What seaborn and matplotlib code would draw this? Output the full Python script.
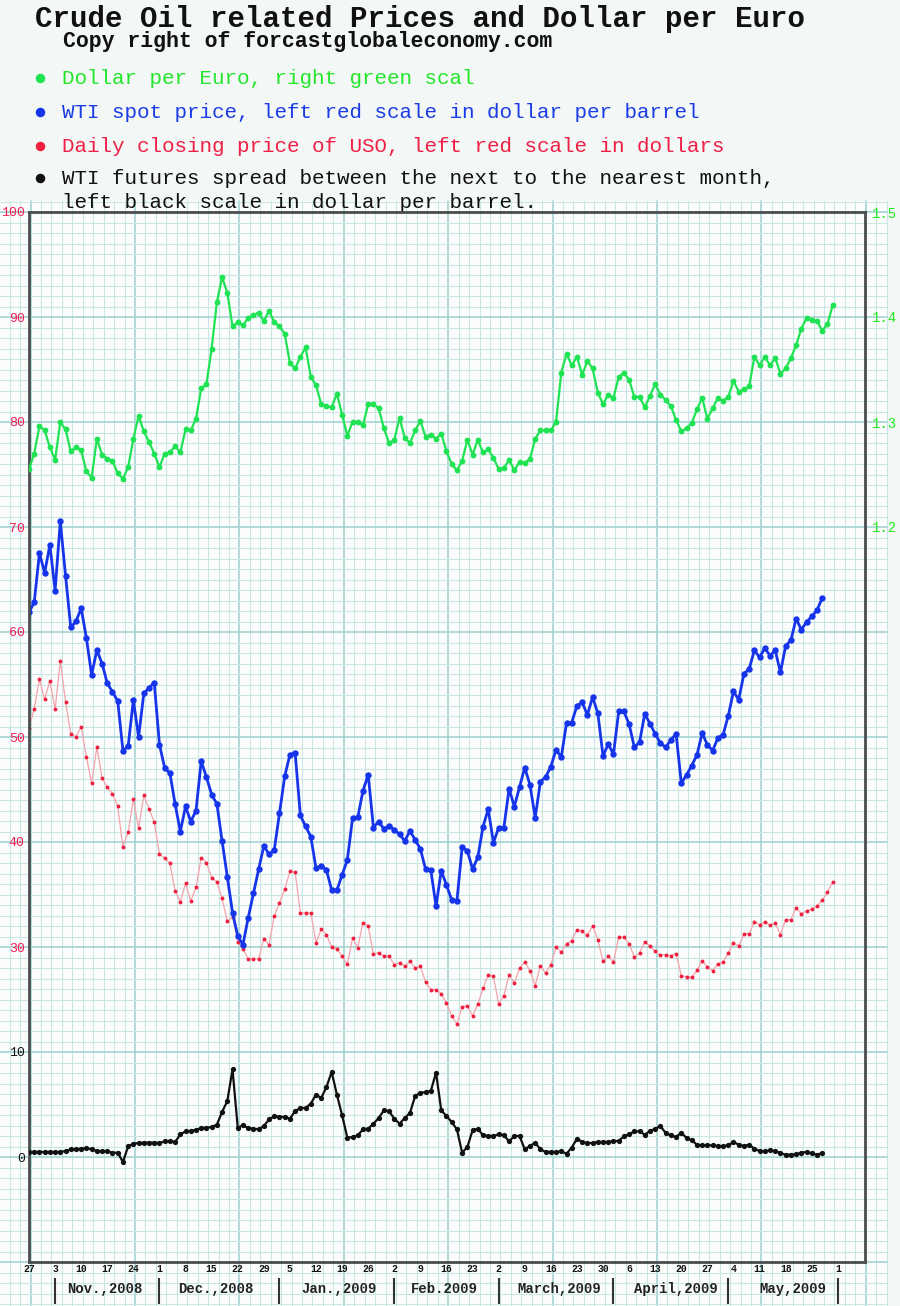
import numpy as np
import seaborn as sns
import matplotlib.pyplot as plt
from matplotlib.patches import Rectangle
import pandas as pd

sns.set_theme(style="white")
plt.rcParams['font.family'] = ['Liberation Mono', 'DejaVu Sans Mono']

# dollar per euro (right green scale), one value per trading day from Oct 27, 2008
usd_per_eur = [
    1.255, 1.270, 1.296, 1.292, 1.276, 1.264, 1.300, 1.293, 1.272, 1.276,
    1.273, 1.253, 1.247, 1.284, 1.269, 1.265, 1.263, 1.251, 1.246, 1.257,
    1.284, 1.306, 1.291, 1.281, 1.270, 1.257, 1.270, 1.271, 1.277, 1.271,
    1.293, 1.292, 1.303, 1.332, 1.336, 1.370, 1.414, 1.438, 1.423, 1.391,
    1.395, 1.392, 1.399, 1.402, 1.404, 1.396, 1.406, 1.395, 1.391, 1.384,
    1.356, 1.351, 1.362, 1.371, 1.343, 1.335, 1.317, 1.315, 1.314, 1.327,
    1.307, 1.287, 1.300, 1.300, 1.297, 1.317, 1.317, 1.313, 1.294, 1.280,
    1.283, 1.304, 1.285, 1.280, 1.292, 1.301, 1.286, 1.288, 1.284, 1.289,
    1.272,
    1.260, 1.254, 1.263, 1.283, 1.269, 1.283, 1.271, 1.274, 1.266, 1.255,
    1.256, 1.264, 1.254, 1.262, 1.261, 1.265, 1.284, 1.292, 1.292, 1.292,
    1.300, 1.347, 1.365, 1.354, 1.362, 1.345, 1.358, 1.351, 1.328, 1.317,
    1.326, 1.323, 1.343, 1.347, 1.340, 1.324, 1.324, 1.314, 1.325, 1.336,
    1.326, 1.321, 1.315, 1.302, 1.291, 1.294, 1.299, 1.312, 1.323, 1.303,
    1.313, 1.323, 1.320, 1.324, 1.339, 1.329, 1.331, 1.334, 1.362, 1.354,
    1.362, 1.354, 1.361, 1.346, 1.351, 1.361, 1.373, 1.389, 1.399, 1.397,
    1.396, 1.387, 1.393, 1.411]

# WTI spot price, dollar per barrel
wti_spot = [
    61.87, 62.83, 67.51, 65.63, 68.31, 63.94, 70.54, 65.38, 60.44, 61.01,
    62.26, 59.42, 55.91, 58.27, 57.00, 55.12, 54.29, 53.43, 48.71, 49.12,
    53.52, 49.98, 54.16, 54.67, 55.18, 49.28, 47.05, 46.57, 43.61, 41.00,
    43.39, 41.95, 42.97, 47.69, 46.19, 44.50, 43.64, 40.10, 36.69, 33.28,
    31.05, 30.22, 32.77, 35.10, 37.39, 39.63, 38.83, 39.24, 42.75, 46.25,
    48.33, 48.49, 42.53, 41.48, 40.52, 37.49, 37.75, 37.33, 35.42, 35.42,
    36.85, 38.29, 42.27, 42.34, 44.88, 46.41, 41.38, 41.95, 41.25, 41.54,
    41.16, 40.74, 40.10, 41.06, 40.20, 39.34, 37.39, 37.33, 33.89, 37.27,
    35.90,
    34.47, 34.40, 39.49, 39.17, 37.42, 38.54, 41.46, 43.12, 39.94, 41.37,
    41.37, 45.09, 43.37, 45.21, 47.09, 45.44, 42.32, 45.76, 46.17, 47.19,
    48.78, 48.08, 51.32, 51.38, 52.97, 53.29, 52.11, 53.80, 52.27, 48.20,
    49.32, 48.36, 52.43, 52.43, 51.22, 49.03, 49.51, 52.21, 51.26, 50.30,
    49.41, 49.03, 49.73, 50.30, 45.60, 46.39, 47.28, 48.30, 50.37, 49.25,
    48.71, 49.89, 50.21, 52.02, 54.34, 53.55, 56.03, 56.47, 58.25, 57.58,
    58.47, 57.74, 58.25, 56.15, 58.70, 59.21, 61.27, 60.22, 60.95, 61.49,
    62.07, 63.24]

# daily closing price of USO, dollars
uso_close = [
    50.88, 52.69, 55.50, 53.59, 55.34, 52.63, 57.25, 53.36, 50.30, 50.02,
    50.97, 48.10, 45.62, 49.03, 46.10, 45.23, 44.60, 43.39, 39.56, 40.93,
    44.09, 41.32, 44.44, 43.16, 41.89, 38.86, 38.45, 37.97, 35.35, 34.30,
    36.06, 34.37, 35.67, 38.51, 38.03, 36.60, 36.22, 34.62, 32.45, 32.87,
    30.48, 29.84, 28.88, 28.88, 28.88, 30.80, 30.22, 32.96, 34.21, 35.48,
    37.23, 37.11, 33.25, 33.25, 33.25, 30.41, 31.69, 31.18, 29.99, 29.84,
    29.11, 28.34, 30.86, 29.94, 32.33, 32.01, 29.30, 29.46, 29.14, 29.14,
    28.31, 28.50, 28.15, 28.63, 27.99, 28.18, 26.65, 25.95, 25.95, 25.54,
    24.64, 23.43, 22.67, 24.32, 24.38, 23.43, 24.57, 26.06,
    27.36, 27.20, 24.57, 25.36, 27.36, 26.57, 28.00, 28.57, 27.75, 26.31,
    28.22, 27.52, 28.32, 29.97, 29.52, 30.32, 30.61, 31.66, 31.50, 31.12,
    32.04, 30.70, 28.64, 29.11, 28.57, 30.96, 30.92, 30.32, 29.02, 29.43,
    30.48, 30.07, 29.59, 29.21, 29.27, 29.18, 29.37, 27.27, 27.14, 27.11,
    27.78, 28.70, 28.09, 27.75, 28.38, 28.54, 29.43, 30.39, 30.07, 31.24,
    31.27, 32.39, 32.13, 32.39, 32.07, 32.29, 31.18, 32.61, 32.61, 33.72,
    33.18, 33.40, 33.63, 33.88, 34.45, 35.22, 36.20]

# WTI futures spread next vs nearest month, dollar per barrel
wti_spread = [
    0.48, 0.48, 0.48, 0.48, 0.48, 0.48, 0.48, 0.57, 0.73, 0.73,
    0.79, 0.86, 0.73, 0.57, 0.54, 0.54, 0.41, 0.41, -0.48, 1.02,
    1.27, 1.33, 1.37, 1.37, 1.37, 1.33, 1.49, 1.52, 1.43, 2.16,
    2.44, 2.48, 2.60, 2.76, 2.79, 2.86, 3.08, 4.29, 5.33, 8.35,
    2.79, 3.02, 2.76, 2.70, 2.63, 2.95, 3.59, 3.87, 3.84, 3.81,
    3.65, 4.38, 4.67, 4.67, 5.08, 5.94, 5.62, 6.67, 8.10, 5.94,
    3.97, 1.84, 1.90, 2.06, 2.63, 2.70, 3.17, 3.71, 4.44, 4.35,
    3.65, 3.17, 3.71, 4.19, 5.81, 6.10, 6.19, 6.29, 8.03, 4.44,
    3.90,
    3.33, 2.63, 0.41, 0.95, 2.54, 2.70, 2.06, 2.00, 2.00, 2.16,
    2.06, 1.49, 2.00, 2.00, 0.73, 1.05, 1.37, 0.73, 0.48, 0.48,
    0.48, 0.54, 0.32, 0.89, 1.75, 1.43, 1.33, 1.33, 1.43, 1.43,
    1.43, 1.52, 1.52, 1.97, 2.16, 2.44, 2.44, 2.13, 2.48, 2.70,
    2.95, 2.29, 2.06, 1.90, 2.32, 1.81, 1.59, 1.17, 1.11, 1.11,
    1.11, 1.05, 1.02, 1.11, 1.43, 1.17, 1.05, 1.17, 0.79, 0.57,
    0.54, 0.63, 0.57, 0.38, 0.22, 0.22, 0.25, 0.41, 0.48, 0.35,
    0.22, 0.38]

# weekly tick labels (Mondays), every 5 trading days
week_labels = ['27', '3', '10', '17', '24', '1', '8', '15', '22', '29',
               '5', '12', '19', '26', '2', '9', '16', '23', '2', '9',
               '16', '23', '30', '6', '13', '20', '27', '4', '11', '18',
               '25', '1']
month_names = ['Nov.,2008', 'Dec.,2008', 'Jan.,2009', 'Feb.2009',
               'March,2009', 'April,2009', 'May,2009']

left_ticks = [30, 40, 50, 60, 70, 80, 90, 100]
spread_ticks = [0, 10]
eur_ticks = [1.2, 1.3, 1.4, 1.5]

GREEN = '#1fe352'
BLUE = '#1634ea'
RED = '#ee1f3f'
PINK = '#f5a3ab'
CRIMSON = '#f21d55'
FRAME = '#4d4d4d'
MINOR = '#c9e6e5'
MAJOR = '#a3d3d2'

W, H = 900, 1306
fig = plt.figure(figsize=(W / 100, H / 100), dpi=100)
fig.patch.set_facecolor('#f3f7f6')

# ---- graph paper background (pixel coordinates) ----
bg = fig.add_axes([0, 0, 1, 1], zorder=0)
bg.set_xlim(0, W)
bg.set_ylim(H, 0)
bg.axis('off')
bg.add_patch(Rectangle((0, 201), 887, H - 201, fc='#fbfdfd', ec='none'))
for k in range(-2, 83):
    x = 30.6 + 10.44 * k
    major = (k % 10 == 0)
    bg.plot([x, x], [201, H], color=MAJOR if major else MINOR,
            lw=1.2 if major else 0.75, zorder=1)
for k in range(-1, 105):
    y = 212 + 10.5 * k
    major = (k % 10 == 0)
    bg.plot([0, 887], [y, y], color=MAJOR if major else MINOR,
            lw=1.2 if major else 0.75, zorder=1)

# ---- titles and legend ----
bg.text(35, 27, 'Crude Oil related Prices and Dollar per Euro', fontsize=21,
        fontweight='bold', color='#111111', ha='left', va='baseline')
bg.text(63, 47, 'Copy right of forcastglobaleconomy.com', fontsize=15.5,
        fontweight='bold', color='#111111', ha='left', va='baseline')

legend_rows = [
    (78, GREEN, '#22e62a', 'Dollar per Euro, right green scal'),
    (112, BLUE, '#1a3ce6', 'WTI spot price, left red scale in dollar per barrel'),
    (146, RED, '#f01f45', 'Daily closing price of USO, left red scale in dollars'),
    (178, '#111111', '#111111', 'WTI futures spread between the next to the nearest month,'),
]
for y, dot, tcol, txt in legend_rows:
    bg.scatter([40], [y], s=34, color=dot, zorder=3)
    bg.text(62, y, txt, fontsize=15, color=tcol, ha='left', va='center')
bg.text(62, 202, 'left black scale in dollar per barrel.', fontsize=15,
        color='#111111', ha='left', va='center')

# ---- main chart ----
ax = fig.add_axes([29 / W, 44 / H, 836 / W, 1050 / H], zorder=2)
ax.patch.set_alpha(0)
ax.set_xlim(0, 160.2)
ax.set_ylim(0, 100)

axg = ax.twinx()
axg.set_ylim(0.5, 1.5)
axb = ax.twinx()
axb.set_ylim(-10, 90)

sns.lineplot(x=np.arange(len(usd_per_eur)), y=usd_per_eur, ax=axg,
             color=GREEN, lw=1.6, marker='o', markersize=4.2,
             markerfacecolor=GREEN, markeredgecolor=GREEN, markeredgewidth=0)
sns.lineplot(x=np.arange(len(uso_close)), y=uso_close, ax=ax,
             color=PINK, lw=0.9, marker='o', markersize=2.8,
             markerfacecolor=RED, markeredgecolor=RED, markeredgewidth=0)
sns.lineplot(x=np.arange(len(wti_spot)), y=wti_spot, ax=ax,
             color=BLUE, lw=2.0, marker='o', markersize=4.6,
             markerfacecolor=BLUE, markeredgecolor=BLUE, markeredgewidth=0)
sns.lineplot(x=np.arange(len(wti_spread)), y=wti_spread, ax=axb,
             color='#111111', lw=1.6, marker='o', markersize=3.8,
             markerfacecolor='#111111', markeredgecolor='#111111',
             markeredgewidth=0)

for a in (ax, axg, axb):
    a.set_xlabel('')
    a.set_ylabel('')

for side in ('left', 'right', 'top', 'bottom'):
    ax.spines[side].set_color(FRAME)
    ax.spines[side].set_linewidth(2)
    axg.spines[side].set_visible(False)
    axb.spines[side].set_visible(False)

# left red scale
ax.set_yticks(left_ticks)
ax.set_yticklabels([str(v) for v in left_ticks])
ax.tick_params(axis='y', length=0, pad=3, labelsize=9.5, labelcolor=CRIMSON)

# left black scale
axb.set_yticks(spread_ticks)
axb.set_yticklabels([str(v) for v in spread_ticks])
axb.tick_params(axis='y', left=True, labelleft=True, right=False,
                labelright=False, length=0, pad=3, labelsize=9.5,
                labelcolor='#111111')

# right green scale
axg.set_yticks(eur_ticks)
axg.set_yticklabels([f'{v:.1f}' for v in eur_ticks])
axg.tick_params(axis='y', length=0, pad=5, labelsize=10, labelcolor='#22e622')

# weekly ticks
ax.set_xticks(np.arange(0, 5 * len(week_labels), 5))
ax.set_xticklabels(week_labels)
ax.tick_params(axis='x', direction='in', length=7, width=1.4, color='#333333',
               pad=1.5, labelsize=7, labelcolor='#111111')
for lbl in ax.get_xticklabels():
    lbl.set_fontweight('bold')

# month row under the axis
month_bounds = [5, 25, 48, 70, 90, 112, 134, 155]
month_centers = [14.6, 35.8, 59.4, 79.6, 101.6, 124.0, 146.4]
xt = ax.get_xaxis_transform()
ax.vlines(month_bounds, -0.040, -0.015, transform=xt, clip_on=False,
          color='#333333', lw=1.5)
for c, name in zip(month_centers, month_names):
    ax.text(c, -0.0257, name, transform=xt, ha='center', va='center',
            fontsize=10, fontweight='bold', color='#222222')

fig.savefig('out.png', dpi=100, facecolor=fig.get_facecolor())
